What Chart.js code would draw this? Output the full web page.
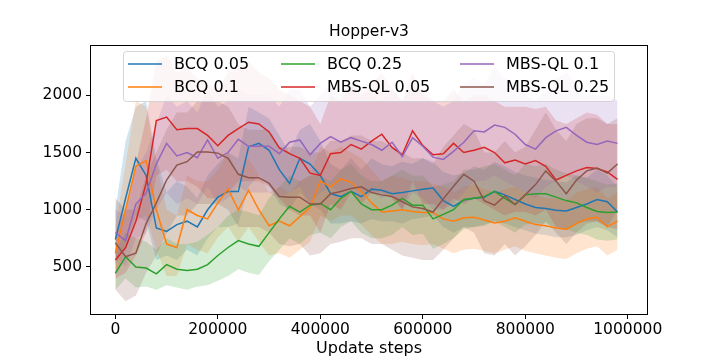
<!DOCTYPE html>
<html><head><meta charset="utf-8">
<script src="https://cdn.jsdelivr.net/npm/chart.js@4.4.1/dist/chart.umd.min.js"></script>
<style>html,body{margin:0;padding:0;background:#fff}canvas{display:block}</style>
</head><body>
<canvas id="c" width="720" height="360"></canvas>
<script>
const chartTitle = 'Hopper-v3';
const xAxisTitle = 'Update steps';
const steps = [0,20000,40000,60000,80000,100000,120000,140000,160000,180000,
  200000,220000,240000,260000,280000,300000,320000,340000,360000,380000,
  400000,420000,440000,460000,480000,500000,520000,540000,560000,580000,
  600000,620000,640000,660000,680000,700000,720000,740000,760000,780000,
  800000,820000,840000,860000,880000,900000,920000,940000,960000,980000];
const xTicks = [0,200000,400000,600000,800000,1000000];
const yTicks = [500,1000,1500,2000];
const seriesNames = ['BCQ 0.05','BCQ 0.1','BCQ 0.25','MBS-QL 0.05','MBS-QL 0.1','MBS-QL 0.25'];

const bcq005 = [740,1100,1450,1300,840,810,870,900,850,1000,1110,1160,1160,1550,1580,1520,1350,1230,1450,1400,1300,1140,1115,1160,1115,1180,1170,1140,1150,1165,1180,1190,1080,1030,1085,1100,1110,1160,1130,1090,1050,1020,1010,995,990,1020,1050,1090,1070,980];
const bcq005Hi = [1000,1600,1900,1950,1450,1150,1250,1200,1100,1300,1400,1500,1450,1900,1850,1800,1650,1500,1700,1750,1600,1400,1350,1450,1350,1450,1400,1380,1420,1400,1450,1420,1330,1300,1320,1380,1350,1420,1380,1330,1300,1280,1260,1250,1240,1300,1280,1350,1300,1200];
const bcq005Lo = [520,700,950,900,560,600,560,650,600,750,850,850,880,1200,1300,1220,1050,1000,1150,1050,1000,880,880,900,880,920,900,900,880,920,930,950,850,800,850,850,870,900,880,850,820,790,780,760,760,780,820,850,820,760];

const bcq01 = [620,1000,1380,1430,1000,700,670,1000,950,920,1060,1180,1000,1170,1000,860,900,860,940,1020,1250,1200,1270,1240,1160,1060,980,990,1000,985,975,975,920,900,930,935,910,885,900,930,900,870,860,840,830,880,920,935,850,900];
const bcq01Hi = [850,1400,1950,1900,1400,1000,950,1300,1250,1250,1350,1500,1300,1450,1300,1150,1200,1150,1250,1300,1550,1500,1550,1500,1450,1350,1250,1300,1280,1250,1250,1230,1200,1150,1200,1220,1180,1150,1180,1200,1150,1130,1100,1100,1080,1150,1180,1200,1100,1150];
const bcq01Lo = [430,650,900,950,650,420,420,700,650,620,760,850,720,850,720,600,620,580,650,720,950,900,950,950,870,780,700,700,720,700,690,700,660,620,650,660,640,620,650,680,640,620,600,580,570,620,660,680,600,650];

const bcq025 = [445,590,500,490,440,520,480,470,480,520,600,670,730,700,680,800,920,1030,980,1040,1055,1000,1100,1160,1050,1000,1000,1040,1100,1040,1040,920,960,1000,1090,1100,1115,1160,1100,1045,1130,1140,1140,1110,1080,1060,1020,985,975,980];
const bcq025Hi = [650,800,750,720,650,750,700,700,720,780,850,950,1000,980,950,1100,1200,1300,1250,1300,1300,1250,1350,1400,1300,1250,1250,1300,1350,1300,1300,1200,1220,1250,1350,1350,1380,1400,1350,1300,1400,1380,1400,1350,1320,1300,1280,1250,1220,1230];
const bcq025Lo = [300,400,320,330,300,340,320,300,330,340,380,420,480,450,430,550,650,750,700,780,800,750,850,900,800,750,750,780,850,780,790,660,700,750,830,850,860,900,850,800,870,880,880,850,830,800,780,740,730,740];

const mbs005 = [560,670,900,1230,1780,1810,1700,1710,1710,1650,1560,1650,1710,1765,1750,1680,1540,1490,1450,1320,1300,1490,1500,1570,1530,1600,1660,1545,1480,1690,1560,1480,1490,1580,1500,1520,1545,1500,1410,1435,1400,1430,1380,1260,1300,1340,1370,1360,1330,1265];
const mbs005Hi = [800,1000,1400,1800,2300,2350,2200,2250,2150,2100,2050,2200,2250,2300,2200,2150,2050,2000,1950,1900,1750,2000,1950,2100,2000,2100,2200,2050,1950,2200,2000,1950,1950,2050,1950,2000,2000,1950,1900,1900,1900,1880,1900,1780,1750,1800,1850,1830,1750,1750];
const mbs005Lo = [400,450,600,800,1300,1350,1250,1250,1200,1100,1100,1150,1250,1250,1250,1200,1100,1000,950,950,800,1050,1000,1150,1050,1150,1150,1100,1000,1250,1050,1050,1000,1100,1050,1100,1050,1000,950,980,980,950,1000,850,820,880,900,900,850,830];

const mbs01 = [800,730,1050,1145,1400,1580,1470,1500,1455,1610,1450,1500,1615,1555,1555,1555,1490,1590,1610,1480,1580,1640,1590,1630,1600,1570,1520,1590,1465,1630,1555,1460,1440,1510,1590,1690,1680,1740,1720,1660,1570,1530,1630,1690,1720,1650,1590,1570,1600,1580];
const mbs01Hi = [1000,950,1350,1500,1750,2000,1900,1950,1850,2050,1900,1950,2050,2000,2000,2000,1900,2050,2050,1900,2000,2100,2000,2100,2050,2000,1950,2050,1950,2100,2050,1950,1900,1950,2100,2150,2100,2250,2150,2100,2000,1950,2050,2150,2200,2100,2000,2000,2000,1950];
const mbs01Lo = [600,500,750,800,1000,1150,1050,1100,1050,1200,1050,1100,1200,1150,1150,1150,1100,1150,1200,1050,1150,1200,1150,1200,1150,1150,1100,1150,1000,1150,1100,1000,1000,1050,1150,1250,1250,1300,1250,1200,1150,1100,1200,1250,1300,1250,1200,1150,1200,1200];

const mbs025 = [710,590,620,880,1060,1260,1390,1420,1505,1505,1495,1450,1310,1280,1280,1230,1115,1110,1110,1050,1050,1140,1160,1185,1200,1150,1130,1115,1070,1025,1010,980,1095,1205,1310,1250,1080,1040,1120,1045,1130,1220,1340,1250,1140,1260,1340,1365,1320,1400];
const mbs025Hi = [1100,1000,1000,1300,1500,1700,1850,1850,1950,1950,1950,1900,1750,1700,1700,1700,1550,1550,1550,1500,1500,1600,1600,1650,1650,1600,1600,1550,1500,1450,1450,1400,1550,1650,1750,1700,1500,1500,1600,1500,1550,1700,1850,1700,1600,1750,1800,1800,1750,1800];
const mbs025Lo = [300,200,250,450,600,800,950,950,1050,1050,1050,1000,850,850,850,800,700,680,700,600,620,700,720,750,750,700,700,650,600,580,560,560,650,750,850,800,620,600,700,600,680,780,900,800,700,800,880,900,850,1000];

const seriesMeans = [bcq005,bcq01,bcq025,mbs005,mbs01,mbs025];
const seriesHi = [bcq005Hi,bcq01Hi,bcq025Hi,mbs005Hi,mbs01Hi,mbs025Hi];
const seriesLo = [bcq005Lo,bcq01Lo,bcq025Lo,mbs005Lo,mbs01Lo,mbs025Lo];
const colors = ['#1f77b4','#ff7f0e','#2ca02c','#d62728','#9467bd','#8c564b'];
const bandColors = ['rgba(31,119,180,0.2)','rgba(255,127,14,0.2)','rgba(44,160,44,0.2)','rgba(214,39,40,0.2)','rgba(148,103,189,0.2)','rgba(140,86,75,0.2)'];

const toXY = arr => arr.map((v,i)=>({x:steps[i], y:v}));
const datasets = [];
for (let i=0;i<6;i++){
  datasets.push({label:seriesNames[i], data:toXY(seriesMeans[i]), borderColor:colors[i], borderWidth:1.5, pointRadius:0, fill:false, order:5-i});
}
for (let i=0;i<6;i++){
  datasets.push({label:seriesNames[i]+' hi', data:toXY(seriesHi[i]), borderColor:'rgba(0,0,0,0)', borderWidth:0, pointRadius:0, fill:'+1', backgroundColor:bandColors[i], order:11-i});
  datasets.push({label:seriesNames[i]+' lo', data:toXY(seriesLo[i]), borderColor:'rgba(0,0,0,0)', borderWidth:0, pointRadius:0, fill:false, order:11-i});
}

const boxPlugin = {id:'box', afterDatasetsDraw(chart){
  const a=chart.chartArea, ctx=chart.ctx; ctx.save();
  ctx.strokeStyle='#000'; ctx.lineWidth=1;
  ctx.strokeRect(Math.round(a.left)+0.5, Math.round(a.top)+0.5, Math.round(a.right-a.left)-1, Math.round(a.bottom-a.top)-1);
  ctx.restore();
}};
const titlePlugin = {id:'mplTitle', afterDraw(chart){
  const a=chart.chartArea, ctx=chart.ctx; ctx.save();
  ctx.font='15.5px "DejaVu Sans"'; ctx.fillStyle='#000'; ctx.textAlign='center'; ctx.textBaseline='middle';
  ctx.fillText(chartTitle,(a.left+a.right)/2,32);
  ctx.restore();
}};
const legendPlugin = {id:'mplLegend', afterDraw(chart){
  const ctx=chart.ctx; ctx.save();
  const x=123.5,y=51.5,w=491,h=50,r=3;
  ctx.beginPath();
  ctx.moveTo(x+r,y); ctx.lineTo(x+w-r,y); ctx.arcTo(x+w,y,x+w,y+r,r);
  ctx.lineTo(x+w,y+h-r); ctx.arcTo(x+w,y+h,x+w-r,y+h,r);
  ctx.lineTo(x+r,y+h); ctx.arcTo(x,y+h,x,y+h-r,r);
  ctx.lineTo(x,y+r); ctx.arcTo(x,y,x+r,y,r); ctx.closePath();
  ctx.fillStyle='rgba(255,255,255,0.8)'; ctx.fill();
  ctx.strokeStyle='rgba(204,204,204,0.8)'; ctx.lineWidth=1; ctx.stroke();
  const hx=[128,281,460], tx=[174,327,506], ry=[64,87];
  ctx.font='16px "DejaVu Sans"'; ctx.textBaseline='middle'; ctx.textAlign='left';
  for(let i=0;i<6;i++){
    const c=Math.floor(i/2), rr=i%2;
    ctx.strokeStyle=colors[i]; ctx.lineWidth=1.5;
    ctx.beginPath(); ctx.moveTo(hx[c],ry[rr]); ctx.lineTo(hx[c]+34,ry[rr]); ctx.stroke();
    ctx.fillStyle='#000'; ctx.fillText(seriesNames[i],tx[c],ry[rr]+1);
  }
  ctx.restore();
}};

Chart.defaults.font.family='"DejaVu Sans"';
new Chart(document.getElementById('c'), {
  type:'line',
  data:{datasets},
  plugins:[boxPlugin,titlePlugin,legendPlugin],
  options:{
    responsive:false, animation:false, devicePixelRatio:1,
    layout:{padding:{top:45,right:72,left:0,bottom:0}},
    elements:{line:{tension:0}},
    plugins:{legend:{display:false}, tooltip:{enabled:false}, title:{display:false}},
    scales:{
      x:{type:'linear', min:-49500, max:1039500,
        afterBuildTicks:s=>{s.ticks=xTicks.map(v=>({value:v}));},
        afterFit:s=>{s.height=45;},
        ticks:{callback:v=>String(v), font:{size:15.5}, color:'#000', padding:2, maxRotation:0, autoSkip:false},
        grid:{drawOnChartArea:false, drawTicks:true, tickLength:4, tickColor:'#000', tickWidth:1},
        border:{display:false},
        title:{display:true, text:xAxisTitle, font:{size:16}, color:'#000', padding:{top:0,bottom:2}}
      },
      y:{type:'linear', min:80, max:2440,
        afterBuildTicks:s=>{s.ticks=yTicks.map(v=>({value:v}));},
        afterFit:s=>{s.width=90;},
        ticks:{callback:v=>String(v), font:{size:15.5}, color:'#000', padding:4},
        grid:{drawOnChartArea:false, drawTicks:true, tickLength:4, tickColor:'#000', tickWidth:1},
        border:{display:false}
      }
    }
  }
});
</script>
</body></html>
